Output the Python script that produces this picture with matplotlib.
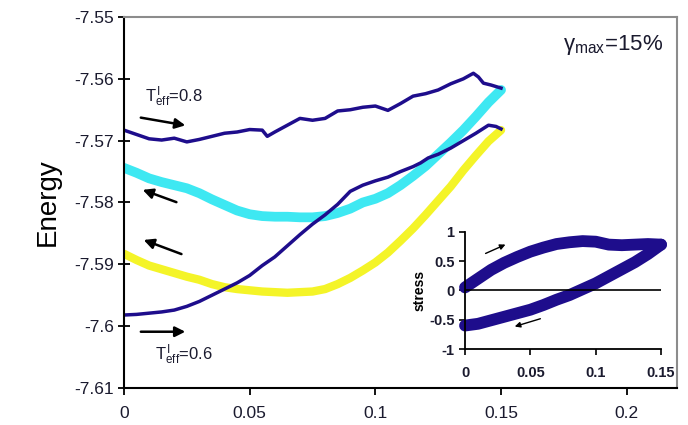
import matplotlib
matplotlib.use("Agg")
import matplotlib.pyplot as plt

plt.rcParams['font.family'] = ['Liberation Sans', 'DejaVu Sans']
plt.rcParams['mathtext.fontset'] = 'custom'
plt.rcParams['mathtext.rm'] = 'Liberation Sans'
plt.rcParams['mathtext.it'] = 'Liberation Sans'

# strain values (shared by the unloading curves)
strain = [0.000, 0.005, 0.010, 0.015, 0.020, 0.025, 0.030, 0.035, 0.040, 0.045,
          0.050, 0.055, 0.060, 0.065, 0.070, 0.075, 0.080, 0.085, 0.090, 0.095,
          0.100, 0.105, 0.110, 0.115, 0.120, 0.125, 0.130, 0.135, 0.140, 0.145, 0.150]

# T=0.8 loading (dark blue, upper)
up_08_x = [0.000, 0.005, 0.010, 0.015, 0.020, 0.025, 0.030, 0.035, 0.040, 0.045,
           0.050, 0.055, 0.057, 0.060, 0.065, 0.070, 0.075, 0.080, 0.085, 0.090,
           0.095, 0.100, 0.105, 0.110, 0.115, 0.120, 0.125, 0.130, 0.135, 0.139,
           0.141, 0.143, 0.146, 0.150]
up_08_e = [-7.5683, -7.5690, -7.5697, -7.5699, -7.5696, -7.5702, -7.5698, -7.5693,
           -7.5688, -7.5686, -7.5682, -7.5683, -7.5693, -7.5686, -7.5675, -7.5664,
           -7.5667, -7.5664, -7.5652, -7.5650, -7.5646, -7.5644, -7.5651, -7.5640,
           -7.5628, -7.5624, -7.5618, -7.5608, -7.5600, -7.5591, -7.5597, -7.5607,
           -7.5610, -7.5615]

# T=0.8 unloading (cyan)
down_08_e = [-7.5744, -7.5752, -7.5761, -7.5767, -7.5772, -7.5777, -7.5785, -7.5795,
             -7.5804, -7.5813, -7.5819, -7.5822, -7.5823, -7.5823, -7.5824, -7.5824,
             -7.5822, -7.5817, -7.5810, -7.5800, -7.5794, -7.5785, -7.5772, -7.5757,
             -7.5741, -7.5722, -7.5703, -7.5683, -7.5661, -7.5638, -7.5618]

# T=0.6 loading (dark blue, lower)
up_06_x = [0.000, 0.005, 0.010, 0.015, 0.020, 0.025, 0.030, 0.035, 0.040, 0.045,
           0.050, 0.055, 0.060, 0.065, 0.070, 0.075, 0.080, 0.085, 0.090, 0.095,
           0.100, 0.105, 0.110, 0.115, 0.118, 0.121, 0.125, 0.130, 0.135, 0.140,
           0.145, 0.148, 0.150]
up_06_e = [-7.5982, -7.5981, -7.5979, -7.5977, -7.5974, -7.5968, -7.5960, -7.5950,
           -7.5940, -7.5930, -7.5918, -7.5902, -7.5888, -7.5870, -7.5852, -7.5835,
           -7.5820, -7.5803, -7.5782, -7.5772, -7.5765, -7.5759, -7.5750, -7.5742,
           -7.5736, -7.5728, -7.5722, -7.5712, -7.5700, -7.5688, -7.5675, -7.5677,
           -7.5681]

# T=0.6 unloading (yellow)
down_06_e = [-7.5883, -7.5893, -7.5902, -7.5908, -7.5914, -7.5920, -7.5925, -7.5932,
             -7.5937, -7.5940, -7.5942, -7.5944, -7.5945, -7.5946, -7.5945, -7.5944,
             -7.5940, -7.5932, -7.5922, -7.5910, -7.5897, -7.5881, -7.5862, -7.5842,
             -7.5820, -7.5797, -7.5774, -7.5748, -7.5724, -7.5701, -7.5683]

# inset stress-strain loop
inset_x = [0.00, 0.01, 0.02, 0.03, 0.04, 0.05, 0.06, 0.07, 0.08,
           0.09, 0.10, 0.11, 0.12, 0.13, 0.14, 0.15]
stress_up = [0.05, 0.20, 0.35, 0.47, 0.57, 0.66, 0.73, 0.79, 0.82,
             0.84, 0.83, 0.78, 0.77, 0.78, 0.79, 0.78]
stress_down = [-0.60, -0.57, -0.51, -0.45, -0.39, -0.33, -0.25, -0.16, -0.08,
               0.02, 0.12, 0.24, 0.36, 0.48, 0.62, 0.78]

navy = '#1e0d8c'
fig = plt.figure(figsize=(6.88, 4.25), dpi=100)
ax = fig.add_axes([0.1802, 0.0871, 0.8038, 0.8729])

ax.plot(strain, down_08_e, color='#3ee8f2', lw=7, solid_capstyle='round')
ax.plot(strain, down_06_e, color='#f4f428', lw=6, solid_capstyle='round')
ax.plot(up_08_x, up_08_e, color=navy, lw=2.5)
ax.plot(up_06_x, up_06_e, color=navy, lw=2.5)

ax.set_xlim(0, 0.22)
ax.set_ylim(-7.61, -7.55)
ax.set_xticks([0, 0.05, 0.1, 0.15, 0.2])
ax.set_xticklabels(['0', '0.05', '0.1', '0.15', '0.2'])
ax.set_yticks([-7.61, -7.6, -7.59, -7.58, -7.57, -7.56, -7.55])
ax.set_yticklabels(['-7.61', '-7.6', '-7.59', '-7.58', '-7.57', '-7.56', '-7.55'])
ax.tick_params(axis='both', labelsize=12.5, colors='black', labelcolor='#1a1a2e')
ax.tick_params(axis='x', direction='out', length=5, width=1.3, pad=8)
ax.tick_params(axis='y', direction='inout', length=8, width=1.3, pad=3)
for s in ['left', 'bottom']:
    ax.spines[s].set_linewidth(1.5)
for s in ['top', 'right']:
    ax.spines[s].set_color('#8c8c8c')
    ax.spines[s].set_linewidth(1.5)
ax.set_ylabel('Energy', fontsize=20, labelpad=10)

arrow = dict(arrowstyle='-|>', color='black', lw=1.8, mutation_scale=15)
ax.annotate('', xy=(0.0255, -7.5676), xytext=(0.0056, -7.5662), arrowprops=arrow)
ax.annotate('', xy=(0.0064, -7.5778), xytext=(0.0219, -7.5801), arrowprops=arrow)
ax.annotate('', xy=(0.0068, -7.5859), xytext=(0.0239, -7.5885), arrowprops=arrow)
ax.annotate('', xy=(0.0255, -7.6009), xytext=(0.0056, -7.6009), arrowprops=arrow)

ax.text(0.0084, -7.5629, r'$\mathrm{T_{eff}^{\,I}}$=0.8', fontsize=12,
        va='center', ha='left', color='#1a1a2e')
ax.text(0.0124, -7.6047, r'$\mathrm{T_{eff}^{\,I}}$=0.6', fontsize=12,
        va='center', ha='left', color='#1a1a2e')
ax.text(0.794, 0.925, r'$\mathrm{γ_{max}}$=15%', fontsize=16,
        transform=ax.transAxes, va='center', ha='left', color='#1a1a2e')

# inset
ins = fig.add_axes([0.6759, 0.1788, 0.2849, 0.276])
ins.plot(inset_x, stress_up, color=navy, lw=8.5, solid_capstyle='round', clip_on=False)
ins.plot(inset_x, stress_down, color=navy, lw=8.5, solid_capstyle='round', clip_on=False)
ins.axhline(0, color='black', lw=1.2)
ins.set_xlim(0, 0.15)
ins.set_ylim(-1, 1)
ins.set_xticks([0, 0.05, 0.1, 0.15])
ins.set_xticklabels(['0', '0.05', '0.1', '0.15'])
ins.set_yticks([-1, -0.5, 0, 0.5, 1])
ins.set_yticklabels(['-1', '-0.5', '0', '0.5', '1'])
ins.tick_params(labelsize=10.5, labelcolor='#1a1a2e', length=4, width=1.2)
for lab in ins.get_xticklabels() + ins.get_yticklabels():
    lab.set_fontweight('bold')
ins.tick_params(axis='x', pad=8)
ins.spines['top'].set_visible(False)
ins.spines['right'].set_visible(False)
for s in ['left', 'bottom']:
    ins.spines[s].set_linewidth(1.3)
ins.set_ylabel('stress', fontsize=10, fontweight='bold', labelpad=2)
small = dict(arrowstyle='-|>', color='black', lw=1.0, mutation_scale=8)
ins.annotate('', xy=(0.0329, 0.80), xytext=(0.0138, 0.61), arrowprops=small)
ins.annotate('', xy=(0.036, -0.63), xytext=(0.0597, -0.47), arrowprops=small)

fig.savefig('out.png', dpi=100)
